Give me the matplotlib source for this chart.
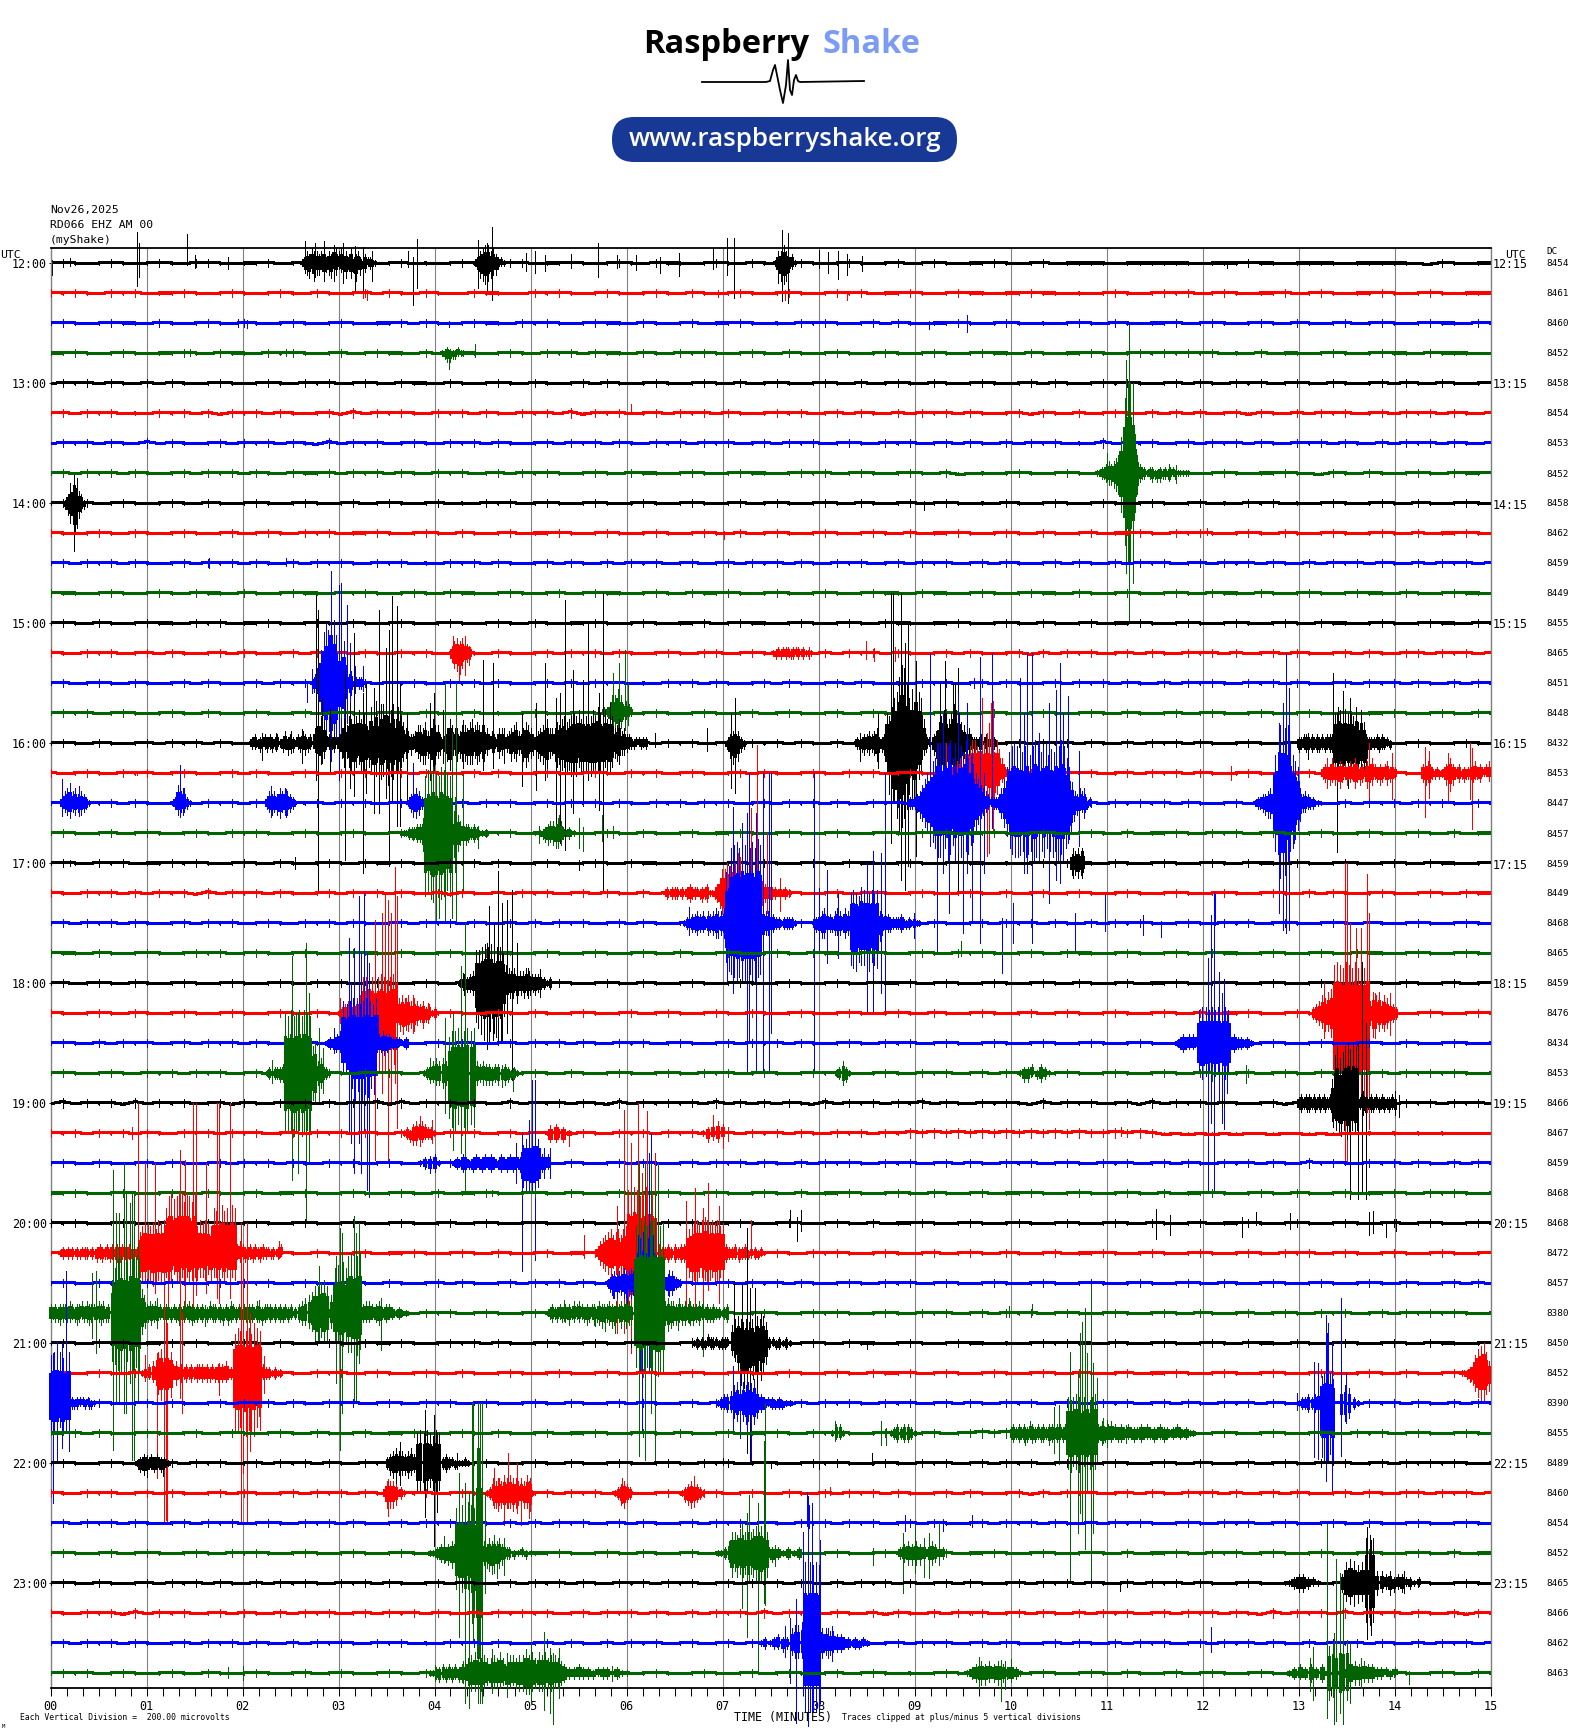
import numpy as np
import matplotlib
matplotlib.use("Agg")
import matplotlib.pyplot as plt
from matplotlib.patches import FancyBboxPatch

W, H = 1570, 1732
colors = ["black", "red", "blue", "#006400"]

dc_values = [8454, 8461, 8460, 8452, 8458, 8454, 8453, 8452, 8458, 8462, 8459, 8449,
             8455, 8465, 8451, 8448, 8432, 8453, 8447, 8457, 8459, 8449, 8468, 8465,
             8459, 8476, 8434, 8453, 8466, 8467, 8459, 8468, 8468, 8472, 8457, 8380,
             8450, 8452, 8390, 8455, 8489, 8460, 8454, 8452, 8465, 8466, 8462, 8463]
left_labels = ["12:00", "13:00", "14:00", "15:00", "16:00", "17:00",
               "18:00", "19:00", "20:00", "21:00", "22:00", "23:00"]
right_labels = ["12:15", "13:15", "14:15", "15:15", "16:15", "17:15",
                "18:15", "19:15", "20:15", "21:15", "22:15", "23:15"]
minute_labels = ["00", "01", "02", "03", "04", "05", "06", "07",
                 "08", "09", "10", "11", "12", "13", "14", "15"]

# background wobble of each trace, one digit per 7.5 s, 4 = on the line
wobble = [
 "454345434543554344534543454345343454345534454345435443454354345434543453454344543453444434444443444544344443444443254344",
 "545435453445434543454354345354354335443354543454345435434543454345453445434544344544343454345453454344534543445434543444",
 "454345443543454354345434543445354345443545434544354345344543435454345354344543454343454354344534543454354345345434544354",
 "445434543445435443545434534544353544345435453544354354543454354345434543454345443543445434545454534353443454345443544433",
 "354535435354345434543545345435443543454354345354345434543534543454353454354345434535434545434535435453454354345354354345",
 "453545343545352545354345263545435453543545362545345354535434545345354353545354345254353454353535345254353545345354535435",
 "354535436354345354535426354534543545354345354535435453545345354534543545345354353545343635453453545354354535435354535435",
 "453545354345354535435445354535435453453545434543544345434544345453454345435234345434543545434543454344543254354345435445",
 "454534543454354345434543453454345343545345434543454345434534543454354345345434354345434543454345343545343454345435434543",
 "543454354345434534543545344543454354345344543454345434543534543454345435344543454354345344543545434543543454345435344543",
 "453545354345354535435354543545343545354345354353545345345354535435453453545345354345354353545345354535435354535435354535",
 "544345434543544354345443545434543544345434534544345435445434543454345443544345434544354345434543544354345434544354345443",
 "454354345443545344543454354345434543454354344543454344534544345434543544344543454354345344543454345434543544345434544354",
 "543545345354345354345354535435453454354345354535434543553454354353545354345354345253545345354354535345354345354355354535",
 "453454354345354345354535435354543545354345353545343545354345354345354343545345354345354535435354543545354345354535435354",
 "454534543454354345434534543454354345343454345435345434543453454345345434345434543454345435434534543454345435344543454354",
 "454354345354535435354543545354345354345354535435453545345354535435354535345354345354535435354535434543454345354345434543",
 "534543545345434535434543545345354345354345434543545345434535434543545345434545434543545345354535434543545345354543454354",
 "453545354345354535435453545345354353545345354535435453545345354535435453545345354535435354545354345354535435354535454354",
 "454345345434543545434543454345434543545344543454354345344543454345434543545344543454345435344543545345434543454345435344",
 "454354534454543454354345435445434545354345434543544345434535434543544345434544343454544354345434543544354345434543544345",
 "543545353545263545354345354535435254353545345354353545345453454345345434543454353453454345434543454345435354345434543544",
 "453545354345354534543545354345354535435353545345354345354535435453545345354345354535435354543454354534543454354345434543",
 "544354345434545345434543454435434543544345434543454354345434543544345434543545434543544345434543544345434543544345434543",
 "453454354345434543454354534543454354345434543454354345434543454345435445345434543454354345344543454345434543454354345345",
 "543454354345434543454354345434534543454354345434534543454354345434543454354345434534543454345435344543454354345434543454",
 "454353545345354535434543545354345354345354535435453454345354535434543545345434543454345434543454354345434543454354345434",
 "454345435453545345354535435454354534543454354345434543545345434545434543545345354534543454345435434534543545345354545434",
 "363545263545345254354535354626354535436354535426354545363535354263545354635435454263545345263545354345254535436354535453",
 "545354535435453545345354535435453545345354535435453545345354535435453546565656565656565565652323232332332323343434343333",
 "454354345354345354535435453454354534543454354345354345354535435354543545345354354534543545345354354535436454354535435354",
 "445434543454354345344543454345435344543454354345344543454345435344543454354345344543454345435344543454354345344543545434",
 "545434543454354345434543454345434534543454345434543545344543454345435344543454345434543454354345344543454345434534543454",
 "454354345434534543454354345344543454354345344543454354345344543545434543453454354345344543454345434543545345434543454345",
 "454354345354345354534543454354345354345354535435453454345354535434543545345434543454345434543454354345434543454354345353",
 "454345435453545345354535435454354534543454354345434543545345434545434543545345354534543454345435434534543545345354545434",
 "454354534454543454354345435445434545354345434543544345434535434543544345434544343454544354345434543544354345434543544345",
 "453454354345434543454354534543454354345434543454354345434543454345435445345434543454354345344543454345434543454354345345",
 "454354345354345354535435453454354534543454354345354345354535435354543545345354354534543545345354354535436454354535435354",
 "445354345434534543454354345344543454354345344543454354345344543545434543453456565636354345344543454345434543545345434543",
 "454345435453545345354535435454354534543454354345434543545345434545434543545345354534543454345435434534543545345354545434",
 "543545345354345354345354535435453454354345354535434543553454354353545354345354345253545345354354535345354345354355354535",
 "453545354345354534543545354345354535435353545345354345354535435453545345354345354535435354543454354534543454354345434543",
 "454345345434543545434543454345434543545344543454354345344543454345434543545344543454345435344543545345434543454345435344",
 "454354345354535435354543545354345354345354535435453545345354535435354535345354345354535435354535434543454345354345434543",
 "543545263545345354353545345354535435354545345354535435354536354535435254353545345354353545345354535426354536354535435254",
 "453545354345354535435354543545343545354345354353545345345354535435453453545345354345354353545345354535435354535435354535",
 "454534543454354345434534543454354345343454345435345434543453454345345434345434543454345435434534543454345435344543454354",
]

# bursts per trace: (start minute, end minute, heights up, heights down), one base-36 character per column, 3 px a step
bursts = {
 0: [(2.62, 3.38, "1243544345243654534251342132211", "1245364425345342345253624331211"),
     (4.42, 4.72, "124566453221", "125676544211"),
     (7.55, 7.75, "13464231", "14676321")],
 3: [(4.08, 4.3, "112111211", "123322111")],
 7: [(10.9, 11.42, "1122343456ccpuuqd63221", "1122344567dcouuqd73221"),
     (11.45, 11.85, "2211212122111111", "2323322221211111")],
 8: [(0.15, 0.35, "13565431", "24677532")],
 13: [(4.18, 4.37, "24545432", "35675432"), (7.53, 7.92, "1121222122212111", "1212121221212111")],
 14: [(2.72, 3.26, "1254bhkfqlgc8e63412221", "1336aikgqmkd9e53421221")],
 15: [(5.77, 6.05, "22366863432", "11345652211")],
 16: [(2.1, 2.76, "23121323223124232132432311", "22131232322132423123243211"),
      (2.76, 2.93, "5997432", "3675221"),
      (2.93, 3.75, "232358698a9b8a97c9e9ddf9bd8c97543", "231358589a87a9989cb8cb9ebc9a86534"),
      (3.75, 4.75, "2346657448663245865546657867666534325532", "2235677569754356974656677757656423325432"),
      (4.75, 6.2, "3456743576532456785557689789a9b8a9a9b9ca9b8a956845332122122", "3365643686542567895468798a9bab8a9a8b9ba9a89a856744322211212"),
      (7.05, 7.22, "1345421", "2578632"),
      (8.4, 9.15, "212334345223a9cfhmqpkfi9mhf832", "223434346334ahfkpuspmhikec9431"),
      (9.2, 9.85, "3479ba8adba763532223132121", "45acba9bcb9754423222132121"),
      (13.0, 13.95, "22332323232333acbabaa9c7b73222323221", "32232323323233a9bc9aba8b9a8322232212")],
 17: [(9.37, 9.96, "2234523a9bb9c8ab9a7b8532", "223444799787a86786b74322"),
      (13.25, 14.0, "232353243324253232425323234232", "232434353243253432534234324332"),
      (14.3, 14.98, "324321211234532231212224232133", "343322121243642132322232231112")],
 18: [(0.12, 0.4, "24564534321", "23453434321"), (1.3, 1.45, "264521", "243321"),
      (2.25, 2.55, "243435454321", "234345344321"), (3.72, 3.9, "1345421", "1345421"),
      (8.95, 9.85, "2223468acefkkhkjlfkgjhlfgda86543221", "2223568abdfiihfjhejgifghed975432122"),
      (9.85, 10.83, "2358chjkjihjkgjlkhjkgihkjljfc74354312", "2358bfhiihgihgjiggifgigjhjfca6443321"),
      (12.55, 13.2, "12233455ghqrpqkgec53432211", "12234556ghprokgfc963322211")],
 19: [(3.65, 4.55, "111222335jlkmkjmlkj5c644332321111", "111222336lkmnmkmljl6d644432321111"),
      (5.1, 5.45, "11234435421211", "12343455421211")],
 20: [(10.64, 10.76, "34544", "44543")],
 21: [(6.4, 7.7, "1212221212322212231113588a97a9ca9a7b866433222121211", "1212221212322123231123578a9889ba9a7a965433222121211")],
 22: [(6.6, 7.75, "1223343424345345hjpqrpsqrprpsq5443322122221", "1223343324345345dghijikjjhjkih6443322122221"),
      (7.95, 9.05, "22345432454354aba9cbbabab4343222232121211", "23455333444354efgdeefgdef6433322232221211")],
 24: [(4.25, 5.2, "123234bbcdcdbcca6545444543332212", "124334dfhjigjihjb6554445443432212")],
 25: [(3.0, 4.0, "12343456ccdcbcdcbcda5656454342312", "12234345hjigihjhgijh56746564353212"),
      (13.15, 14.02, "2346578ghgfhgfhfgfh4767465432", "2345668uvwvuwvxwvux4856565432")],
 26: [(2.88, 3.7, "12234edefedefedf343322212", "12233aaefjgjhifh3343222112"),
      (11.73, 12.5, "1232332bccbcbcbcb2322121", "1232221acbaabaaca2322121")],
 27: [(2.25, 2.9, "1212223kjljkljlkj9a45321", "1212233kjklkjlkjk9a45321"),
      (3.89, 4.86, "12345454ceefeefef43433233232121", "12334454fijhiijhi43344434343221"),
      (8.18, 8.32, "12421", "12431"), (10.1, 10.4, "12231321", "13312321")],
 28: [(13.0, 14.0, "23233232323238gjfhjkikj234323232322232", "232332323232389ab9ca9a924323323232323")],
 29: [(3.68, 3.99, "12134343221", "12344232221"), (5.2, 5.4, "2321", "3331"), (6.8, 7.0, "12343", "13232")],
 30: [(3.85, 4.05, "12231", "12331"), (4.2, 5.18, "1213212322323213223232688798323", "1213223223223223232323899a98322")],
 33: [(0.1, 0.9, "12121212122212123223232323223222", "12121212212212132322322332232322"),
      (0.93, 1.18, "79ba9a8bab", "8aa99ba9ab"), (1.18, 1.5, "7fjkijkkhkjhk", "78a97a9898a97"),
      (1.5, 1.7, "a9baba9a", "89889798"), (1.7, 1.92, "fefgeffgf", "8898a8989"), (1.92, 2.4, "2343223232232212123", "3232322322322122121"),
      (5.7, 6.02, "2456786786897", "2456785787796"), (6.02, 6.3, "lkmljkmlkj", "nmlklmnkkl"), (6.3, 6.6, "2322323233", "2232323232"),
      (6.6, 7.0, "3489ababcbabab9a", "348a9a889a98a989"), (7.0, 7.4, "2322322312212", "2322232221221")],
 34: [(5.8, 6.12, "12343435445432", "13455345645432"), (6.12, 6.3, "gfhgfhgf", "ggfhfgff"), (6.36, 6.55, "123421", "124421")],
 35: [(0.0, 0.6, "3232333243233424333343423", "3233432332343233432434333"),
      (0.64, 0.92, "bfijihkiji", "ghjkjgkjij"), (0.92, 1.2, "88634342323", "6753434223"),
      (1.2, 2.5, "3323232434323232243323232432323233243233323232323", "3232342323433232323323424323232333233432323233232"),
      (2.55, 2.76, "2345678", "2344567"), (2.76, 2.88, "99ab9", "9a8a9"), (2.88, 2.96, "564", "453"),
      (2.96, 3.08, "fgghf", "aacba"), (3.1, 3.22, "jkijk", "ddeec"), (3.25, 3.7, "34433423321211", "33323423221211"),
      (5.2, 6.05, "2322323232434323233243334324343543", "2323233242323234324345334543354544"),
      (6.1, 6.38, "tuvutuvuutu", "ijkjiijklkk"), (6.4, 7.05, "45443534343343232322123", "46544344344342233322123")],
 36: [(6.7, 7.05, "1212132121222", "1212212212221"), (7.1, 7.45, "6898787869897", "46aefgdcg9a7"), (7.45, 7.7, "22212121", "22122121")],
 37: [(0.95, 1.1, "12343", "12233"), (1.12, 1.25, "78687", "79898"), (1.25, 1.74, "3342323232333232323", "3242323232323233232"),
      (1.74, 1.92, "33424", "33323"), (1.92, 2.18, "dfefefdefe", "jkijljkkij"), (2.18, 2.4, "33221211", "32221211"),
      (14.7, 14.985, "11123689a74", "11234689976")],
 38: [(0.01, 0.19, "ghihfgh", "9aa8a99"), (0.19, 0.45, "2212221211", "2222112121"),
      (6.95, 7.12, "123343", "122332"), (7.12, 7.36, "675767685", "564676675"), (7.36, 7.7, "2322212111", "2321222211"),
      (13.0, 13.24, "12232344", "12232333"), (13.24, 13.36, "9aba8", "ijjhj"), (13.44, 13.53, "565", "665"), (13.53, 13.62, "221", "221")],
 39: [(8.14, 8.26, "1331", "1221"), (8.75, 9.0, "12323321", "12323321"),
      (10.0, 10.6, "2323232432323233233232", "2323233233233243232323"), (10.6, 10.88, "cbcdcbcdbcd", "cdbcdcbdcbc"),
      (10.88, 11.9, "4342343232322232322232212321211", "3343232332223232223223212121211")],
 40: [(0.9, 1.22, "1232323221", "1343232321"), (3.5, 3.82, "23454434534", "24554445433"),
      (3.82, 4.05, "ababa9ba", "99a989a9"), (4.05, 4.35, "3232211121", "3232121111")],
 41: [(3.48, 3.68, "24443121", "25554121"), (4.55, 5.02, "12545465655454651", "12454565565445561"),
      (5.88, 6.04, "123432", "124532"), (6.58, 6.8, "12343321", "13454321")],
 43: [(3.95, 4.22, "11232345", "11233454"), (4.22, 4.44, "fggfhgfh", "cddjcdkd"),
      (4.44, 4.49, "zzz", "zzz"), (4.49, 4.78, "443545453321", "545676654322"), (4.78, 5.0, "211211", "221121"),
      (6.95, 7.1, "11245", "11234"), (7.1, 7.46, "77686777897987", "86878777899a98"), (7.46, 7.8, "3221212", "2321212"),
      (8.85, 9.3, "234343324322", "234444324322")],
 44: [(12.9, 13.2, "1233221", "1233211"), (13.45, 13.7, "3787677", "3676666"), (13.7, 13.78, "fgf", "ded"), (13.78, 14.25, "444342332212", "443243231211")],
 46: [(7.4, 7.72, "12123223", "12122322"), (7.72, 7.86, "56676", "45555"), (7.86, 8.0, "rqrqrq", "nnnnnn"), (8.0, 8.5, "65544332212121", "55443332212211")],
 47: [(3.95, 4.25, "1122323232", "1123232323"), (4.25, 5.35, "2335676565565754665668675767566543", "2334665654555546545667765665565543"),
      (5.35, 6.0, "32232212221211", "32222221221211"), (9.55, 10.1, "1234343432321", "1234433432321"),
      (12.9, 13.3, "12323231", "12223231"), (13.32, 13.5, "9a8bab", "988a99"), (13.54, 14.0, "54343322212", "54433322121")],
}

# thin excursions per trace: (minute, pixels up, pixels down)
spikes = {
 0: [(0.02, 3, 12), (0.2, 5, 3), (0.9, 31, 23), (0.92, 20, 14), (1.42, 29, 2), (1.5, 8, 5), (1.85, 6, 6), (2.65, 22, 10),
     (2.75, 20, 14), (2.85, 22, 18), (2.95, 18, 18), (3.05, 20, 20), (3.17, 17, 28), (3.25, 16, 32), (3.35, 12, 18),
     (3.72, 12, 4), (3.78, 6, 42), (3.82, 24, 25), (4.45, 23, 25), (4.55, 20, 30), (4.6, 36, 37), (4.95, 10, 8),
     (5.05, 12, 10), (5.15, 8, 8), (5.42, 9, 5), (5.7, 20, 14), (5.9, 8, 5), (6.1, 8, 7), (6.35, 6, 10), (6.55, 10, 13),
     (6.9, 15, 6), (7.05, 25, 12), (7.12, 25, 35), (7.62, 33, 38), (7.68, 30, 40), (7.58, 12, 20), (8.0, 13, 5),
     (8.1, 11, 10), (8.2, 12, 16), (8.3, 9, 12), (8.45, 7, 8), (12.25, 2, 5)],
 1: [(3.25, 2, 5), (3.3, 3, 7), (6.95, 3, 4), (7.65, 3, 7), (8.3, 1, 7)],
 2: [(1.95, 4, 4), (2.05, 3, 5), (4.15, 2, 4), (9.15, 2, 6), (9.55, 8, 9)],
 3: [(1.45, 4, 3), (2.45, 4, 3), (4.15, 3, 16), (4.42, 9, 4)],
 5: [(6.05, 9, 1)],
 7: [(11.23, 148, 148), (11.2, 113, 100), (11.28, 90, 110), (11.0, 20, 8), (11.15, 30, 14), (11.72, 8, 10), (11.65, 9, 8)],
 8: [(0.2, 20, 20), (0.24, 28, 48), (0.28, 25, 25), (0.25, 18, 30), (9.1, 2, 7)],
 9: [(7.02, 2, 6), (12.05, 5, 2)],
 10: [(2.45, 5, 3), (1.65, 5, 5)],
 13: [(4.19, 17, 10), (4.25, 8, 27), (4.32, 17, 22), (4.36, 7, 12), (7.9, 6, 6), (8.49, 12, 6), (8.58, 5, 8), (8.75, 10, 22), (8.8, 6, 8)],
 14: [(2.67, 2, 19), (2.72, 14, 10), (2.82, 30, 20), (2.89, 53, 20), (2.92, 112, 40), (2.95, 60, 30), (3.0, 98, 97), (3.03, 100, 60),
      (3.09, 78, 40), (3.12, 40, 60), (3.17, 17, 10), (3.26, 17, 8), (9.62, 5, 5)],
 15: [(5.86, 40, 18), (5.92, 50, 22), (5.98, 63, 17), (6.02, 30, 12)],
 16: [(2.77, 148, 37), (2.785, 133, 150), (2.83, 45, 20), (2.91, 35, 30), (3.07, 73, 117), (3.12, 40, 45), (3.16, 110, 53),
      (3.25, 50, 130), (3.29, 60, 50), (3.37, 55, 70), (3.42, 133, 70), (3.49, 95, 55), (3.53, 113, 123), (3.56, 147, 60),
      (3.61, 137, 83), (3.64, 60, 83), (3.71, 30, 60), (3.95, 40, 37), (3.99, 50, 27), (4.09, 33, 20), (4.3, 23, 25),
      (4.51, 83, 27), (4.61, 80, 25), (4.72, 15, 20), (4.91, 30, 43), (5.06, 40, 47), (5.15, 80, 37), (5.27, 45, 80),
      (5.31, 50, 100), (5.36, 143, 107), (5.44, 73, 70), (5.55, 63, 63), (5.6, 120, 37), (5.71, 50, 67), (5.76, 150, 150),
      (5.83, 40, 30), (2.2, 10, 17), (2.35, 10, 8), (2.5, 12, 10), (2.62, 14, 20), (6.3, 10, 4), (6.84, 15, 8), (7.13, 45, 50),
      (7.09, 30, 45), (8.43, 10, 18), (8.62, 30, 25), (8.76, 150, 100), (8.78, 150, 60), (8.86, 150, 137), (8.9, 100, 147),
      (8.93, 120, 123), (9.02, 82, 113), (9.27, 60, 50), (9.32, 82, 70), (9.4, 60, 50), (9.45, 75, 147), (9.42, 60, 80),
      (10.1, 8, 7), (13.36, 70, 20), (13.4, 30, 109), (13.46, 52, 28), (13.52, 22, 45), (13.54, 45, 28), (13.1, 10, 16)],
 17: [(0.9, 2, 2), (9.33, 30, 15), (9.55, 20, 25), (9.68, 113, 30), (9.7, 75, 40), (9.75, 40, 83), (9.8, 70, 30), (9.82, 72, 60),
      (9.78, 50, 80), (13.3, 15, 15), (13.73, 30, 28), (13.97, 20, 26), (14.32, 26, 44), (14.36, 22, 25), (14.56, 20, 28),
      (14.79, 30, 26), (14.81, 25, 56), (14.98, 12, 8), (12.3, 7, 7), (12.75, 8, 4)],
 18: [(0.12, 24, 13), (0.2, 20, 6), (0.3, 17, 13), (1.35, 38, 14), (1.38, 15, 12), (2.3, 17, 14), (2.45, 14, 14), (3.78, 40, 14),
      (8.69, 30, 40), (9.16, 150, 43), (9.23, 60, 147), (9.3, 90, 70), (9.36, 60, 110), (9.45, 110, 50), (9.51, 40, 130),
      (9.55, 100, 70), (9.6, 50, 120), (9.68, 146, 140), (9.72, 30, 70), (9.81, 150, 25), (10.1, 125, 52), (10.14, 90, 70),
      (10.17, 150, 70), (10.22, 150, 140), (10.3, 70, 60), (10.4, 100, 100), (10.47, 113, 77), (10.52, 140, 80), (10.55, 90, 40),
      (10.6, 107, 40), (10.71, 52, 43), (10.77, 15, 15), (12.84, 100, 127), (12.87, 150, 130), (12.9, 115, 127), (12.8, 80, 110),
      (12.95, 30, 40)],
 19: [(3.78, 3, 7), (4.02, 40, 90), (4.05, 50, 85), (4.11, 150, 87), (4.18, 100, 85), (4.22, 150, 87), (4.3, 60, 60),
      (4.45, 7, 15), (5.09, 7, 10), (5.3, 18, 8), (5.5, 15, 15), (5.55, 6, 18), (5.74, 18, 8), (5.86, 7, 5)],
 20: [(0.2, 3, 3), (2.55, 6, 6), (10.65, 15, 15), (10.74, 15, 15), (5.5, 3, 7)],
 21: [(7.16, 40, 30), (7.26, 70, 35), (7.3, 85, 40), (7.36, 148, 58), (7.42, 90, 28), (7.46, 60, 20), (7.6, 15, 18)],
 22: [(6.65, 16, 12), (6.95, 12, 15), (7.05, 20, 60), (7.11, 116, 70), (7.2, 100, 60), (7.26, 110, 150), (7.28, 150, 120),
      (7.35, 110, 150), (7.42, 150, 150), (7.48, 150, 150), (7.5, 150, 110), (7.95, 150, 150), (8.0, 35, 30), (8.09, 53, 40),
      (8.2, 30, 35), (8.5, 60, 91), (8.57, 72, 88), (8.65, 70, 70), (8.69, 83, 90), (8.99, 10, 15), (9.23, 5, 30), (9.91, 5, 50),
      (10.03, 20, 20), (10.67, 10, 27), (10.98, 28, 8), (11.38, 8, 12), (11.57, 2, 14), (12.13, 29, 2)],
 23: [(9.48, 12, 3)],
 24: [(4.3, 10, 4), (4.57, 77, 60), (4.62, 60, 50), (4.66, 112, 62), (4.7, 80, 60), (4.76, 83, 50), (4.81, 93, 97), (4.86, 40, 20),
      (4.97, 15, 15), (5.1, 14, 14), (4.55, 40, 66)],
 25: [(3.02, 15, 10), (3.1, 10, 10), (3.38, 93, 147), (3.45, 100, 80), (3.48, 120, 60), (3.52, 113, 147), (3.55, 100, 90),
      (3.59, 146, 70), (3.61, 117, 115), (3.7, 15, 17), (3.78, 18, 20), (3.93, 10, 10), (13.27, 30, 25), (13.48, 150, 148),
      (13.51, 150, 150), (13.54, 90, 148), (13.6, 85, 105), (13.65, 85, 80), (13.71, 139, 90), (13.73, 100, 116), (13.8, 20, 25), (13.95, 20, 22)],
 26: [(2.95, 15, 10), (3.11, 105, 90), (3.16, 95, 130), (3.21, 147, 100), (3.23, 90, 130), (3.27, 150, 90), (3.3, 90, 147), (3.32, 80, 154),
      (3.13, 60, 100), (12.06, 85, 149), (12.09, 128, 80), (12.12, 151, 149), (12.17, 71, 60), (12.22, 62, 86), (12.25, 30, 50),
      (12.2, 50, 80)],
 27: [(2.52, 117, 107), (2.58, 60, 100), (2.66, 130, 149), (2.69, 80, 90), (2.31, 13, 10), (2.8, 45, 30), (2.84, 25, 20), (2.76, 30, 25),
      (4.11, 55, 40), (4.19, 60, 77), (4.28, 107, 80), (4.32, 150, 117), (3.95, 15, 10), (4.5, 12, 12), (4.7, 8, 14), (4.82, 5, 18),
      (12.1, 6, 8), (12.45, 8, 10)],
 28: [(12.2, 4, 4), (13.35, 12, 18), (13.54, 30, 96), (13.62, 60, 96), (13.66, 141, 88), (13.7, 80, 96), (14.0, 12, 12), (14.05, 8, 14)],
 29: [(3.85, 17, 13), (3.97, 13, 10), (0.85, 6, 6), (5.4, 3, 13), (6.9, 18, 7), (7.01, 5, 15), (7.06, 6, 8), (11.15, 6, 3), (5.2, 8, 8)],
 30: [(3.95, 7, 10), (4.85, 20, 20), (4.91, 30, 108), (4.98, 43, 30), (5.02, 83, 27), (5.05, 83, 97), (5.14, 15, 15), (5.2, 15, 15)],
 31: [(4.6, 3, 3)],
 32: [(7.7, 13, 4), (7.78, 6, 18), (7.82, 13, 8), (11.52, 14, 16), (11.66, 8, 12), (12.41, 6, 14), (12.56, 11, 2), (12.91, 10, 6),
      (13.73, 11, 12), (13.78, 12, 10), (13.91, 2, 14), (14.02, 4, 8)],
 33: [(0.91, 150, 40), (0.98, 90, 30), (1.09, 90, 40), (1.22, 37, 60), (1.35, 103, 50), (1.4, 93, 55), (1.48, 150, 60), (1.52, 150, 42),
      (1.62, 90, 40), (1.73, 150, 45), (1.76, 150, 50), (1.87, 150, 45), (2.05, 30, 30), (2.38, 12, 5), (5.56, 18, 5),
      (5.9, 47, 80), (5.97, 143, 80), (6.05, 110, 100), (6.12, 150, 50), (6.16, 80, 70), (6.21, 142, 70), (6.3, 100, 40),
      (6.62, 52, 57), (6.71, 65, 53), (6.85, 70, 37), (6.96, 47, 50), (6.8, 45, 50), (7.3, 33, 5)],
 34: [(5.86, 7, 15), (6.0, 8, 20), (6.08, 5, 22), (6.14, 40, 90), (6.16, 30, 150), (6.23, 130, 87), (6.26, 150, 60), (6.3, 50, 60), (6.44, 13, 13)],
 35: [(0.16, 10, 14), (0.43, 40, 25), (0.47, 42, 40), (0.65, 143, 137), (0.68, 100, 90), (0.71, 100, 90), (0.77, 150, 100), (0.79, 120, 100),
      (0.83, 110, 70), (0.85, 120, 147), (0.87, 120, 147), (0.91, 70, 90), (1.11, 15, 15), (1.61, 8, 13), (2.17, 13, 8),
      (2.8, 47, 30), (2.97, 57, 70), (3.02, 85, 137), (3.04, 80, 100), (3.16, 97, 87), (3.18, 80, 87), (3.21, 90, 50),
      (3.44, 15, 37), (5.35, 13, 8), (5.67, 4, 13), (5.78, 4, 18), (5.88, 6, 20), (6.13, 150, 143), (6.19, 150, 147),
      (6.26, 150, 100), (6.3, 120, 148), (6.33, 150, 60), (6.54, 8, 17), (6.65, 15, 10), (6.8, 12, 43), (9.98, 7, 4), (10.22, 9, 2)],
 36: [(7.12, 62, 14), (7.2, 58, 30), (7.26, 115, 110), (7.29, 55, 118), (7.34, 55, 30), (7.4, 30, 37), (6.68, 5, 2), (6.9, 6, 5), (8.5, 2, 6)],
 37: [(0.98, 18, 8), (1.11, 20, 105), (1.18, 87, 150), (1.2, 50, 147), (1.35, 97, 25), (1.37, 60, 40), (1.21, 50, 148),
      (1.98, 150, 148), (2.01, 110, 100), (2.05, 140, 148), (2.08, 60, 78), (2.12, 50, 63), (2.17, 30, 43), (2.22, 17, 20), (1.76, 10, 22), (14.8, 2, 8)],
 38: [(0.03, 50, 100), (0.07, 62, 57), (0.12, 60, 45), (0.16, 132, 30), (0.19, 30, 48), (0.4, 5, 6), (7.11, 37, 30), (7.18, 30, 35), (7.26, 25, 30),
      (7.3, 20, 58), (12.98, 10, 7), (13.16, 41, 54), (13.2, 40, 56), (13.29, 88, 78), (13.31, 80, 60), (13.35, 60, 88), (13.44, 105, 53),
      (13.49, 30, 20), (13.3, 70, 60)],
 39: [(8.17, 12, 8), (8.65, 12, 12), (8.7, 5, 12), (10.15, 5, 12), (10.22, 9, 10), (10.45, 26, 20), (10.51, 28, 31), (10.62, 81, 148),
      (10.7, 60, 100), (10.72, 100, 80), (10.74, 111, 90), (10.78, 125, 116), (10.8, 80, 60), (10.84, 148, 148), (10.86, 70, 100), (10.9, 55, 30),
      (10.96, 15, 10), (11.0, 13, 14), (11.2, 8, 10)],
 40: [(1.0, 8, 14), (1.17, 4, 13), (3.64, 21, 22), (3.6, 15, 20), (3.9, 53, 54), (3.99, 48, 83), (4.03, 30, 49), (4.23, 10, 6), (7.0, 5, 2), (7.5, 2, 5), (8.56, 10, 2), (8.0, 2, 6)],
 41: [(3.52, 14, 23), (4.62, 25, 15), (4.66, 15, 18), (4.72, 15, 32), (4.77, 40, 15), (4.86, 30, 20), (4.9, 15, 32), (4.98, 12, 25),
      (5.95, 15, 10), (6.7, 17, 14), (8.12, 6, 2)],
 42: [(7.88, 31, 3), (7.9, 18, 5), (9.6, 8, 4), (8.9, 8, 8), (9.3, 4, 8)],
 43: [(4.1, 17, 10), (4.26, 80, 70), (4.25, 70, 84), (4.32, 70, 150), (4.36, 60, 155), (4.39, 150, 70), (4.4, 150, 90), (4.45, 150, 150), (4.47, 150, 150), (4.49, 150, 150), (4.53, 60, 40),
      (4.62, 18, 20), (4.72, 15, 22), (4.65, 12, 25), (7.26, 40, 84), (7.2, 30, 55), (7.28, 58, 30), (7.37, 50, 119), (7.43, 112, 50), (7.44, 150, 52),
      (7.55, 8, 13), (8.57, 5, 12), (8.88, 20, 40), (9.1, 15, 24), (9.25, 30, 12), (9.0, 28, 20), (9.15, 20, 25)],
 44: [(11.14, 2, 8), (13.71, 56, 56), (13.75, 43, 52), (13.58, 22, 23), (13.62, 18, 20), (13.95, 12, 12), (14.1, 12, 10), (13.95, 8, 12)],
 45: [(9.6, 2, 2)],
 46: [(7.65, 17, 14), (7.7, 25, 40), (7.77, 44, 80), (7.84, 111, 50), (7.89, 147, 83), (7.93, 140, 69), (8.02, 103, 60), (8.1, 15, 15), (8.14, 17, 18), (12.09, 16, 9)],
 47: [(1.85, 6, 5), (2.0, 7, 7), (4.0, 8, 8), (4.3, 12, 10), (4.6, 24, 20), (4.75, 20, 24), (5.01, 30, 30), (5.14, 41, 37), (5.23, 20, 51), (5.2, 25, 40), (5.3, 25, 25),
      (5.85, 7, 8), (9.67, 16, 15), (9.9, 13, 28), (9.94, 12, 16), (10.0, 14, 8), (13.15, 26, 27), (13.12, 15, 18), (13.3, 149, 45), (13.37, 40, 51), (13.39, 114, 48),
      (13.43, 100, 40), (13.46, 80, 51), (13.54, 30, 30), (13.65, 15, 15), (14.15, 2, 11)],
}

# logo seismogram, in page pixels
logo_x = [702, 766, 770, 773, 775, 777, 780, 783, 786, 788, 790, 792, 794, 796, 798, 800, 864]
logo_y = [82, 82, 81, 70, 65, 75, 90, 103, 85, 60, 90, 95, 80, 75, 81, 82, 81]

fig = plt.figure(figsize=(W / 100, H / 100), dpi=100)
fig.patch.set_facecolor("white")


def px(x, y):
    return x / W, 1 - y / H


ax = fig.add_axes([50.5 / W, 1 - 1688 / H, 1440 / W, 1440 / H])
ax.set_xlim(0, 15)
ax.set_ylim(1440, 0)

# minute grid
for m in range(1, 16):
    ax.axvline(m, color="#808080", lw=0.8, zorder=1)

for row in range(48):
    c = colors[row % 4]
    y0 = 15 + 30 * row
    z = 2 + row
    vals = np.array([int(d) - 4 for d in wobble[row]], dtype=float)
    xs = np.linspace(0, 15, len(vals))
    # line plus a tick at each reading, gives the jagged noise band
    ax.plot(xs, y0 - vals * 0.7, color=c, lw=1.5, zorder=z, antialiased=False, solid_joinstyle="miter")
    ax.vlines(xs, y0 - vals * 1.6 - 2, y0 + vals * 1.6 + 2, color=c, lw=0.72, zorder=z, antialiased=False)
    for t0, t1, up, dn in bursts.get(row, []):
        for heights, sign in ((up, -1), (dn, 1)):
            h = np.array([int(ch, 36) * 3 for ch in heights], dtype=float)
            cols = np.linspace(t0, t1, len(h))
            w = max((t1 - t0) * 96 / len(h), 1.0) * 0.72
            # solid lower part, single pixel tips
            ax.vlines(cols, y0, y0 + sign * h * 0.62, color=c, lw=w, zorder=z,
                      antialiased=False, clip_on=False)
            ax.vlines(cols, y0, y0 + sign * h, color=c, lw=0.72, zorder=z,
                      antialiased=False, clip_on=False)
    sp = spikes.get(row, [])
    if sp:
        sp = np.array(sp, dtype=float)
        ax.vlines(sp[:, 0], y0 - sp[:, 1], y0 + sp[:, 2], color=c, lw=0.72,
                  zorder=z, antialiased=False, clip_on=False)
    # DC offset column on the right
    fig.text(*px(1546, 263 + 30 * row + 1), str(dc_values[row]), fontsize=6.7,
             family="DejaVu Sans Mono", va="center", ha="left")

for name in ["left", "right"]:
    ax.spines[name].set_color("#808080")
    ax.spines[name].set_linewidth(1.0)
for name in ["top", "bottom"]:
    ax.spines[name].set_color("black")
    ax.spines[name].set_linewidth(1.3)

ax.set_xticks(range(16))
ax.set_xticklabels(minute_labels, family="DejaVu Sans Mono", fontsize=8.5)
ax.set_xticks(np.arange(0, 15.01, 1 / 6), minor=True)
ax.tick_params(axis="x", which="both", length=5.8, width=0.75, pad=3, colors="black")
ax.set_yticks(15 + 120 * np.arange(12))
ax.set_yticklabels(left_labels, family="DejaVu Sans Mono", fontsize=8.4)
ax.tick_params(axis="y", length=1.5, width=0.7, pad=1)

for i, lab in enumerate(right_labels):
    fig.text(*px(1493, 265 + 120 * i), lab, fontsize=8.4, family="DejaVu Sans Mono", va="center", ha="left")

mono = {"family": "DejaVu Sans Mono"}
fig.text(*px(50, 210), "Nov26,2025", fontsize=8.2, va="center", **mono)
fig.text(*px(50, 225), "RD066 EHZ AM 00", fontsize=8.2, va="center", **mono)
fig.text(*px(50, 240), "(myShake)", fontsize=8.2, va="center", **mono)
fig.text(*px(0, 255), "UTC", fontsize=8.2, va="center", **mono)
fig.text(*px(1505, 255), "UTC", fontsize=8.2, va="center", **mono)
fig.text(*px(1546, 252), "DC", fontsize=6.7, va="center", **mono)
fig.text(*px(20, 1718), "Each Vertical Division =  200.00 microvolts", fontsize=5.9, va="center", **mono)
fig.text(*px(842, 1718), "Traces clipped at plus/minus 5 vertical divisions", fontsize=5.9, va="center", **mono)
fig.text(*px(734, 1717), "TIME (MINUTES)", fontsize=8.4, va="center", **mono)
fig.text(*px(2, 1727), "M", fontsize=4, va="center", **mono)

# logo block on a page-sized overlay
page = fig.add_axes([0, 0, 1, 1], zorder=-1)
page.set_xlim(0, W)
page.set_ylim(H, 0)
page.axis("off")
page.plot(logo_x, logo_y, color="black", lw=1.3)
page.add_patch(FancyBboxPatch((612, 117), 345, 45, boxstyle="round,pad=0,rounding_size=22",
                              facecolor="#183895", edgecolor="none"))
page.text(785, 139, "www.raspberryshake.org", color="white", fontsize=18.6, family="Open Sans",
          weight="semibold", ha="center", va="center")
page.text(643, 53, "Raspberry", color="black", fontsize=23.5, family="Open Sans",
          weight="bold", ha="left", va="baseline")
page.text(823, 53, "Shake", color="#7b9cf2", fontsize=23.5, family="Open Sans",
          weight="bold", ha="left", va="baseline")

fig.savefig("out.png", dpi=100)
